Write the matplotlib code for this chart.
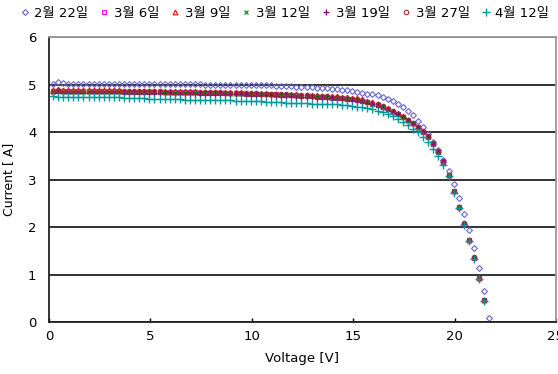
import matplotlib
matplotlib.use("Agg")
import matplotlib.pyplot as plt

plt.rcParams['font.family'] = ['DejaVu Sans', 'Noto Sans CJK KR']

voltage = [0.2, 0.45, 0.7, 0.95, 1.2, 1.45, 1.7, 1.95, 2.2, 2.45, 2.7, 2.95,
           3.2, 3.45, 3.7, 3.95, 4.2, 4.45, 4.7, 4.95, 5.2, 5.45, 5.7, 5.95,
           6.2, 6.45, 6.7, 6.95, 7.2, 7.45, 7.7, 7.95, 8.2, 8.45, 8.7, 8.95,
           9.2, 9.45, 9.7, 9.95, 10.2, 10.45, 10.7, 10.95, 11.2, 11.45, 11.7, 11.95,
           12.2, 12.45, 12.7, 12.95, 13.2, 13.45, 13.7, 13.95, 14.2, 14.45, 14.7, 14.95,
           15.2, 15.45, 15.7, 15.95, 16.2, 16.45, 16.7, 16.95, 17.2, 17.45, 17.7, 17.95,
           18.2, 18.45, 18.7, 18.95, 19.2, 19.45, 19.7, 19.95, 20.2, 20.45, 20.7, 20.95,
           21.2, 21.45, 21.7]

i_0222 = [5.02, 5.05, 5.03, 5.02, 5.02, 5.02, 5.02, 5.02, 5.02, 5.02, 5.02, 5.02,
          5.02, 5.02, 5.02, 5.02, 5.02, 5.02, 5.02, 5.01, 5.01, 5.01, 5.01, 5.01,
          5.01, 5.01, 5.01, 5.01, 5.01, 5.01, 5.00, 5.00, 5.00, 5.00, 5.00, 5.00,
          5.00, 5.00, 4.99, 4.99, 4.99, 4.99, 4.98, 4.98, 4.97, 4.97, 4.96, 4.96,
          4.95, 4.95, 4.94, 4.94, 4.93, 4.93, 4.92, 4.91, 4.90, 4.89, 4.88, 4.87,
          4.85, 4.83, 4.81, 4.79, 4.78, 4.74, 4.70, 4.65, 4.58, 4.52, 4.44, 4.35,
          4.24, 4.11, 3.96, 3.80, 3.62, 3.41, 3.17, 2.90, 2.61, 2.27, 1.93, 1.56,
          1.13, 0.65, 0.08]

i_0306 = [4.86, 4.87, 4.86, 4.86, 4.86, 4.86, 4.86, 4.86, 4.86, 4.86, 4.86, 4.86,
          4.86, 4.86, 4.85, 4.85, 4.85, 4.85, 4.85, 4.85, 4.85, 4.85, 4.84, 4.84,
          4.84, 4.84, 4.84, 4.84, 4.84, 4.83, 4.83, 4.83, 4.83, 4.83, 4.82, 4.82,
          4.82, 4.82, 4.81, 4.81, 4.81, 4.80, 4.80, 4.79, 4.79, 4.78, 4.78, 4.77,
          4.77, 4.76, 4.76, 4.75, 4.74, 4.74, 4.73, 4.72, 4.72, 4.71, 4.70, 4.69,
          4.68, 4.66, 4.63, 4.60, 4.56, 4.52, 4.48, 4.43, 4.38, 4.32, 4.25, 4.18,
          4.10, 4.01, 3.90, 3.75, 3.58, 3.37, 3.09, 2.75, 2.42, 2.07, 1.72, 1.35,
          0.92, 0.46]

i_0309 = [4.89, 4.90, 4.89, 4.89, 4.89, 4.89, 4.89, 4.88, 4.88, 4.88, 4.88, 4.88,
          4.88, 4.88, 4.87, 4.87, 4.87, 4.87, 4.87, 4.87, 4.87, 4.87, 4.86, 4.86,
          4.86, 4.86, 4.86, 4.86, 4.86, 4.85, 4.85, 4.85, 4.85, 4.85, 4.84, 4.84,
          4.84, 4.84, 4.83, 4.83, 4.83, 4.82, 4.82, 4.81, 4.81, 4.80, 4.80, 4.79,
          4.79, 4.78, 4.78, 4.77, 4.77, 4.76, 4.76, 4.75, 4.75, 4.74, 4.73, 4.72,
          4.71, 4.69, 4.66, 4.63, 4.59, 4.55, 4.50, 4.45, 4.39, 4.33, 4.26, 4.19,
          4.11, 4.02, 3.91, 3.76, 3.59, 3.38, 3.10, 2.76, 2.43, 2.08, 1.73, 1.36,
          0.93, 0.47]

i_0312 = [4.85, 4.86, 4.85, 4.85, 4.85, 4.85, 4.85, 4.85, 4.85, 4.85, 4.85, 4.85,
          4.85, 4.84, 4.84, 4.84, 4.84, 4.84, 4.84, 4.84, 4.84, 4.84, 4.83, 4.83,
          4.83, 4.83, 4.83, 4.83, 4.83, 4.83, 4.82, 4.82, 4.82, 4.82, 4.82, 4.81,
          4.81, 4.81, 4.81, 4.80, 4.80, 4.80, 4.79, 4.79, 4.78, 4.78, 4.77, 4.77,
          4.76, 4.76, 4.75, 4.75, 4.74, 4.74, 4.73, 4.72, 4.72, 4.71, 4.70, 4.69,
          4.68, 4.66, 4.63, 4.60, 4.57, 4.53, 4.48, 4.43, 4.38, 4.32, 4.25, 4.18,
          4.10, 4.01, 3.90, 3.75, 3.58, 3.37, 3.09, 2.75, 2.42, 2.07, 1.72, 1.35,
          0.92, 0.46]

i_0319 = [4.83, 4.84, 4.83, 4.83, 4.83, 4.83, 4.83, 4.83, 4.83, 4.83, 4.83, 4.83,
          4.83, 4.83, 4.83, 4.82, 4.82, 4.82, 4.82, 4.82, 4.82, 4.82, 4.82, 4.82,
          4.81, 4.81, 4.81, 4.81, 4.81, 4.81, 4.80, 4.80, 4.80, 4.80, 4.80, 4.79,
          4.79, 4.79, 4.79, 4.78, 4.78, 4.78, 4.77, 4.77, 4.76, 4.76, 4.75, 4.75,
          4.74, 4.74, 4.73, 4.73, 4.72, 4.72, 4.71, 4.71, 4.70, 4.69, 4.68, 4.67,
          4.66, 4.64, 4.61, 4.58, 4.55, 4.51, 4.47, 4.42, 4.37, 4.31, 4.24, 4.17,
          4.09, 4.00, 3.89, 3.74, 3.57, 3.36, 3.08, 2.74, 2.41, 2.06, 1.71, 1.34,
          0.91, 0.45]

i_0327 = [4.87, 4.88, 4.87, 4.87, 4.87, 4.87, 4.87, 4.87, 4.87, 4.87, 4.87, 4.87,
          4.87, 4.87, 4.86, 4.86, 4.86, 4.86, 4.86, 4.86, 4.86, 4.86, 4.85, 4.85,
          4.85, 4.85, 4.85, 4.85, 4.85, 4.84, 4.84, 4.84, 4.84, 4.84, 4.83, 4.83,
          4.83, 4.83, 4.82, 4.82, 4.82, 4.81, 4.81, 4.80, 4.80, 4.79, 4.79, 4.78,
          4.78, 4.77, 4.77, 4.76, 4.76, 4.75, 4.75, 4.74, 4.73, 4.72, 4.71, 4.70,
          4.69, 4.67, 4.64, 4.61, 4.58, 4.54, 4.49, 4.44, 4.38, 4.32, 4.26, 4.19,
          4.11, 4.02, 3.91, 3.76, 3.59, 3.38, 3.10, 2.76, 2.43, 2.08, 1.73, 1.36,
          0.93, 0.47]

i_0412 = [4.76, 4.74, 4.74, 4.74, 4.73, 4.73, 4.73, 4.73, 4.73, 4.73, 4.73, 4.73,
          4.73, 4.73, 4.72, 4.72, 4.72, 4.72, 4.72, 4.69, 4.69, 4.69, 4.69, 4.69,
          4.69, 4.69, 4.68, 4.68, 4.68, 4.68, 4.68, 4.68, 4.67, 4.67, 4.67, 4.67,
          4.66, 4.66, 4.66, 4.65, 4.65, 4.65, 4.64, 4.64, 4.63, 4.63, 4.62, 4.62,
          4.62, 4.61, 4.61, 4.60, 4.60, 4.59, 4.59, 4.58, 4.58, 4.57, 4.56, 4.55,
          4.53, 4.52, 4.50, 4.48, 4.45, 4.42, 4.38, 4.33, 4.27, 4.21, 4.14, 4.07,
          3.99, 3.90, 3.78, 3.64, 3.49, 3.30, 3.08, 2.72, 2.40, 2.05, 1.70, 1.33,
          0.90, 0.44]

labels = ['2월 22일', '3월 6일', '3월 9일', '3월 12일', '3월 19일', '3월 27일', '4월 12일']
series = [i_0222, i_0306, i_0309, i_0312, i_0319, i_0327, i_0412]
styles = [
    dict(marker='D', color='#6666CC', mfc='none', ms=3.0, mew=0.8),
    dict(marker='s', color='#FF00FF', mfc='none', ms=3.0, mew=0.8),
    dict(marker='^', color='#FF0000', mfc='none', ms=3.4, mew=0.8),
    dict(marker='x', color='#008000', mfc='none', ms=3.2, mew=0.8),
    dict(marker='+', color='#800080', mfc='none', ms=4.0, mew=0.9),
    dict(marker='o', color='#993333', mfc='none', ms=3.2, mew=0.8),
    dict(marker='+', color='#009999', mfc='none', ms=5.5, mew=1.0),
]

fig = plt.figure(figsize=(5.58, 3.74), dpi=100)
ax = fig.add_axes([0.0878, 0.139, 0.9086, 0.762])

handles = []
for lab, cur, st in zip(labels, series, styles):
    h, = ax.plot(voltage[:len(cur)], cur, linestyle='none', label=lab, **st)
    handles.append(h)

ax.set_xlim(0, 25)
ax.set_ylim(0, 6)
ax.set_xticks([0, 5, 10, 15, 20, 25])
ax.set_yticks([0, 1, 2, 3, 4, 5, 6])
ax.yaxis.grid(True, color='#222222', linewidth=1.3)
ax.set_axisbelow(True)
ax.tick_params(axis='x', direction='in', length=3, width=1, labelsize=9.5, pad=6)
ax.tick_params(axis='y', length=0, labelsize=9.5, pad=9)
for s in ['left', 'bottom']:
    ax.spines[s].set_color('#222222')
    ax.spines[s].set_linewidth(1.3)
for s in ['top', 'right']:
    ax.spines[s].set_color('#999999')
    ax.spines[s].set_linewidth(1.3)
ax.set_xlabel('Voltage [V]', fontsize=9.5, labelpad=6)
ax.set_ylabel('Current [ A]', fontsize=9, labelpad=9)

fig.legend(handles=handles, labels=labels, loc='center', bbox_to_anchor=(0.51, 0.964),
           ncol=7, frameon=False, fontsize=9.5, handlelength=0.7, handletextpad=0.4,
           columnspacing=0.85, borderaxespad=0, borderpad=0)

fig.savefig('out.png', dpi=100)
